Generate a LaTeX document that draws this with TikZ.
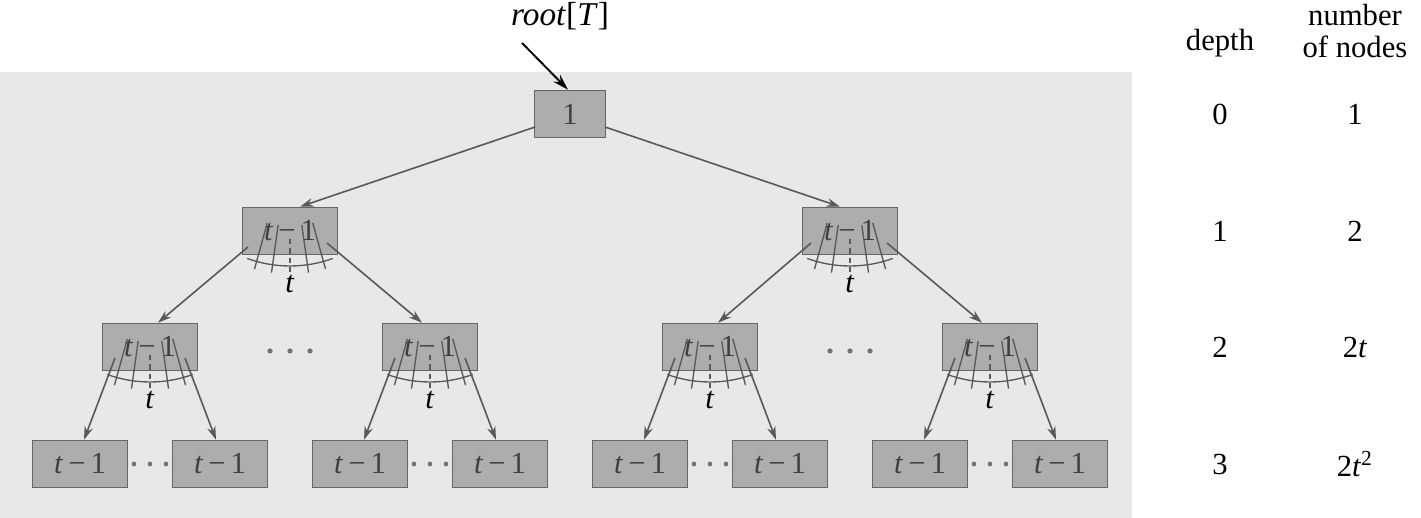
\documentclass[tikz,border=0pt]{standalone}
\usepackage{fontspec}
\setmainfont{Liberation Serif}
\newfontfamily\treefont{Liberation Serif}
\usetikzlibrary{arrows.meta,calc}
\begin{document}
\begin{tikzpicture}[x=0.375pt,y=-0.375pt,
  font=\treefont\fontsize{11.5}{13.5}\selectfont,
  keybox/.style={draw=black!60, line width=0.6pt, fill=black!32, minimum width=35.6pt, minimum height=17.6pt, inner sep=0pt, text=black!75},
  rootbox/.style={keybox, minimum width=26.6pt},
  edge/.style={draw=black!65, line width=0.6pt, -{Stealth[length=5pt,width=3.2pt]}},
  fanline/.style={draw=black!65, line width=0.5pt},
  dotmark/.style={fill=black!55, draw=none}
]
\useasboundingbox (0,0) rectangle (1421,518);
\fill[black!9] (0,72) rectangle (1132,518);

% tree nodes
\node[rootbox] (r) at (570,114) {1};
\node[keybox] (a1) at (290,231) {\textit{t}\,−\,1};
\node[keybox] (a2) at (850,231) {\textit{t}\,−\,1};
\node[keybox] (b1) at (150,347) {\textit{t}\,−\,1};
\node[keybox] (b2) at (430,347) {\textit{t}\,−\,1};
\node[keybox] (b3) at (710,347) {\textit{t}\,−\,1};
\node[keybox] (b4) at (990,347) {\textit{t}\,−\,1};
\node[keybox] (c1) at (80,464) {\textit{t}\,−\,1};
\node[keybox] (c2) at (220,464) {\textit{t}\,−\,1};
\node[keybox] (c3) at (360,464) {\textit{t}\,−\,1};
\node[keybox] (c4) at (500,464) {\textit{t}\,−\,1};
\node[keybox] (c5) at (640,464) {\textit{t}\,−\,1};
\node[keybox] (c6) at (780,464) {\textit{t}\,−\,1};
\node[keybox] (c7) at (920,464) {\textit{t}\,−\,1};
\node[keybox] (c8) at (1060,464) {\textit{t}\,−\,1};

% fans of t children
\foreach \n in {a1,a2,b1,b2,b3,b4} {
  \coordinate (\n f) at ($(\n.center)+(0,-90)$);
  \draw[fanline] ($(\n f)+(70:125)$) arc[start angle=70,end angle=110,radius=125];
  \foreach \ang in {74.5,82,98,105.5}
    \draw[fanline] ($(\n f)+(\ang:85)$) -- ($(\n f)+(\ang:133)$);
  \draw[fanline, dash pattern=on 2pt off 1.5pt] ($(\n f)+(0,98)$) -- ($(\n f)+(0,132)$);
  \node[inner sep=0pt] (\n t) at ($(\n.center)+(0,53)$) {\textit{t}};
}

% edges
\draw[edge] ($(r.center)+(-35,13)$) -- ($(a1.north)+(10,0)$);
\draw[edge] ($(r.center)+(35,13)$) -- ($(a2.north)+(-10,0)$);
\draw[edge] ($(a1.center)+(-42,16)$) -- ($(b1.north)+(8,0)$);
\draw[edge] ($(a1.center)+(37,12)$) -- ($(b2.north)+(-8,0)$);
\draw[edge] ($(a2.center)+(-39,12)$) -- ($(b3.north)+(8,0)$);
\draw[edge] ($(a2.center)+(37,12)$) -- ($(b4.north)+(-8,0)$);
\draw[edge] ($(b1.center)+(-35,11)$) -- ($(c1.north)+(4,0)$);
\draw[edge] ($(b1.center)+(35,11)$) -- ($(c2.north)+(-4,0)$);
\draw[edge] ($(b2.center)+(-35,11)$) -- ($(c3.north)+(4,0)$);
\draw[edge] ($(b2.center)+(35,11)$) -- ($(c4.north)+(-4,0)$);
\draw[edge] ($(b3.center)+(-35,11)$) -- ($(c5.north)+(4,0)$);
\draw[edge] ($(b3.center)+(35,11)$) -- ($(c6.north)+(-4,0)$);
\draw[edge] ($(b4.center)+(-35,11)$) -- ($(c7.north)+(4,0)$);
\draw[edge] ($(b4.center)+(35,11)$) -- ($(c8.north)+(-4,0)$);

% ellipsis dots
\foreach \x in {270,290,310,830,850,870}
  \fill[dotmark] (\x,351) circle[radius=2.6];
\foreach \x in {150,430,710,990}
  \foreach \d in {-16,0,16}
    \fill[dotmark] (\x+\d,464) circle[radius=2.4];

% root label
\node (rt) at (560,16) {\fontsize{12.5}{14}\selectfont\textit{root}[\textit{T}]};
\draw[line width=0.7pt, -{Stealth[length=6pt,width=3.6pt]}] ($(rt.center)+(-38,27)$) -- ($(r.north)+(-2,0)$);

% table
\node (hd) at (1220,43) {depth};
\node[align=center, font=\treefont\fontsize{11.5}{12}\selectfont] (hn) at (1355,31) {number\\of nodes};
\node (d0) at (1220,114) {0};
\node (d1) at (1220,231) {1};
\node (d2) at (1220,347) {2};
\node (d3) at (1220,464) {3};
\node (n0) at (1355,114) {1};
\node (n1) at (1355,231) {2};
\node (n2) at (1355,347) {2\textit{t}};
\node (n3) at (1355,464) {2\textit{t}\textsuperscript{2}};
\end{tikzpicture}
\end{document}
